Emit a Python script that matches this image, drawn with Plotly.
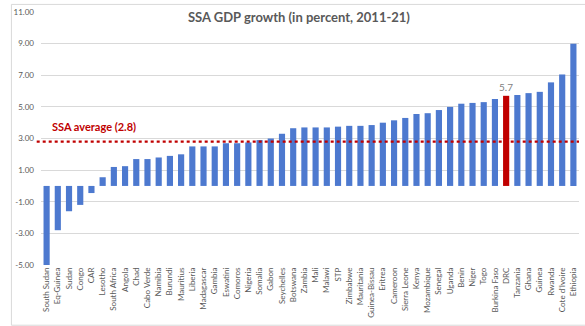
import plotly.graph_objects as go

countries = [
    "South Sudan", "Eq-Guinea", "Sudan", "Congo", "CAR", "Lesotho", "South Africa",
    "Angola", "Chad", "Cabo Verde", "Namibia", "Burundi", "Mauritius", "Liberia",
    "Madagascar", "Gambia", "Eswatini", "Comoros", "Nigeria", "Somalia", "Gabon",
    "Seychelles", "Botswana", "Zambia", "Mali", "Malawi", "STP", "Zimbabwe",
    "Mauritania", "Guinea-Bissau", "Eritrea", "Cameroon", "Sierra Leone", "Kenya",
    "Mozambique", "Senegal", "Uganda", "Benin", "Niger", "Togo", "Burkina Faso",
    "DRC", "Tanzania", "Ghana", "Guinea", "Rwanda", "Cote d'Ivoire", "Ethiopia",
]
growth = [
    -5.0, -2.8, -1.6, -1.2, -0.45, 0.55, 1.2,
    1.25, 1.7, 1.7, 1.8, 1.9, 2.0, 2.5,
    2.5, 2.5, 2.7, 2.7, 2.75, 2.9, 3.0,
    3.3, 3.65, 3.7, 3.7, 3.7, 3.75, 3.8,
    3.8, 3.85, 4.0, 4.15, 4.3, 4.55,
    4.6, 4.8, 5.0, 5.2, 5.25, 5.3, 5.5,
    5.7, 5.75, 5.87, 5.95, 6.55, 7.05, 9.0,
]
ssa_average = 2.8
highlight = "DRC"
y_ticks = [-5, -3, -1, 1, 3, 5, 7, 9, 11]

BLUE = "#4D79CF"
RED = "#C00000"
GREY = "#595959"
FONT = "Lato, 'Open Sans', sans-serif"

colors = [RED if c == highlight else BLUE for c in countries]
labels = [f"{v:.1f}" if c == highlight else "" for c, v in zip(countries, growth)]

fig = go.Figure()
fig.add_trace(go.Bar(
    x=countries,
    y=growth,
    marker=dict(color=colors, line=dict(width=0)),
    text=labels,
    textposition="outside",
    constraintext="none",
    textfont=dict(size=10, color="#7F7F7F", family=FONT),
    cliponaxis=False,
    hoverinfo="x+y",
))

# SSA average reference line
fig.add_shape(
    type="line", xref="paper", yref="y",
    x0=-0.008, x1=1.0, y0=ssa_average, y1=ssa_average,
    line=dict(color=RED, width=2.2, dash="dot"),
)
fig.add_annotation(
    x=0.017, xref="paper", y=3.75, yref="y",
    text=f"<b>SSA average ({ssa_average})</b>",
    showarrow=False, xanchor="left", yanchor="middle",
    font=dict(size=11, color=RED, family=FONT),
)

# Chart frame
fig.add_shape(
    type="rect", xref="paper", yref="paper",
    x0=-0.055, x1=1.02, y0=-0.238, y1=1.03,
    line=dict(color="#D9D9D9", width=1), layer="below",
)

fig.update_layout(
    width=585,
    height=326,
    margin=dict(l=41, r=6, t=12, b=61),
    paper_bgcolor="white",
    plot_bgcolor="white",
    bargap=0.45,
    showlegend=False,
    title=dict(
        text="<b>SSA GDP growth (in percent, 2011-21)</b>",
        x=0.511, xanchor="center", y=0.945, yanchor="middle",
        font=dict(size=13, color=GREY, family=FONT),
    ),
    xaxis=dict(
        type="category",
        tickangle=-90,
        tickfont=dict(size=8, color=GREY, family=FONT),
        showgrid=False,
        showline=False,
        ticks="",
        range=[-0.5, len(countries) - 0.5],
    ),
    yaxis=dict(
        range=[-5, 11],
        tickvals=y_ticks,
        ticktext=[f"{t:.2f}" for t in y_ticks],
        tickfont=dict(size=8, color=GREY, family=FONT),
        showgrid=True,
        gridcolor="#D9D9D9",
        gridwidth=1,
        zeroline=False,
        showline=False,
        ticks="",
        ticklabelstandoff=6,
    ),
)

fig.write_html("out.html")
